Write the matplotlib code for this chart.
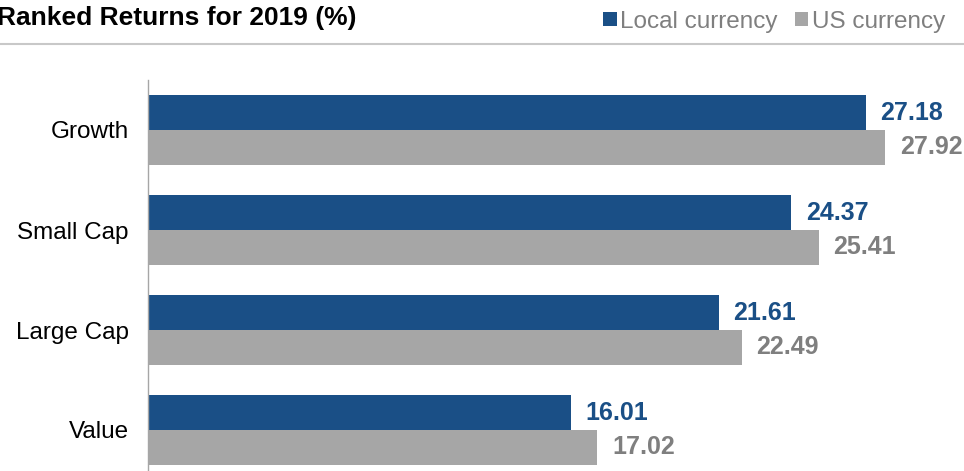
import matplotlib
matplotlib.use("Agg")
import matplotlib.pyplot as plt
import numpy as np
from matplotlib.lines import Line2D

plt.rcParams['font.family'] = ['Liberation Sans', 'DejaVu Sans']

categories = ["Value", "Large Cap", "Small Cap", "Growth"]
local_currency = [16.01, 21.61, 24.37, 27.18]
us_currency = [17.02, 22.49, 25.41, 27.92]
series_names = ["Local currency", "US currency"]
title = "Ranked Returns for 2019 (%)"

BLUE = "#1a4f86"
GRAY = "#a6a6a6"
LABEL_GRAY = "#7f7f7f"

W, H = 964, 471
fig = plt.figure(figsize=(W / 100, H / 100), dpi=100)
ax = fig.add_axes([148 / W, -9 / H, 792 / W, 400 / H])

y = np.arange(len(categories))
h = 0.35
b1 = ax.barh(y + h / 2, local_currency, height=h, color=BLUE, label=series_names[0])
b2 = ax.barh(y - h / 2, us_currency, height=h, color=GRAY, label=series_names[1])

ax.bar_label(b1, labels=[f"{v:.2f}" for v in local_currency], padding=10.5,
             color=BLUE, fontsize=18, fontweight='bold')
ax.bar_label(b2, labels=[f"{v:.2f}" for v in us_currency], padding=10.5,
             color=LABEL_GRAY, fontsize=18, fontweight='bold')

ax.set_xlim(0, 30)
ax.set_ylim(-0.5, len(categories) - 0.5)
ax.set_yticks(y)
ax.set_yticklabels(categories, fontsize=17.5, color="#000000")
ax.tick_params(axis='y', length=0, pad=14)
ax.set_xticks([])
for s in ['top', 'right', 'bottom']:
    ax.spines[s].set_visible(False)
ax.spines['left'].set_color("#a6a6a6")
ax.spines['left'].set_linewidth(1)

fig.text(-0.003, 1 - 25 / H, title, fontsize=19, fontweight='bold',
         ha='left', va='baseline', color="#000000")

fig.add_artist(Line2D([0, 1], [1 - 44 / H, 1 - 44 / H], transform=fig.transFigure,
                      color="#c8c8c8", linewidth=1.5))

leg = fig.legend(handles=[b1, b2], labels=series_names, loc='upper right',
                 bbox_to_anchor=(955 / W, 1 - 1 / H), ncol=2, frameon=False,
                 fontsize=17.5, handlelength=0.55, handleheight=0.55,
                 handletextpad=0.15, columnspacing=0.7, borderaxespad=0)
for t in leg.get_texts():
    t.set_color(LABEL_GRAY)

fig.savefig("out.png", dpi=100)
